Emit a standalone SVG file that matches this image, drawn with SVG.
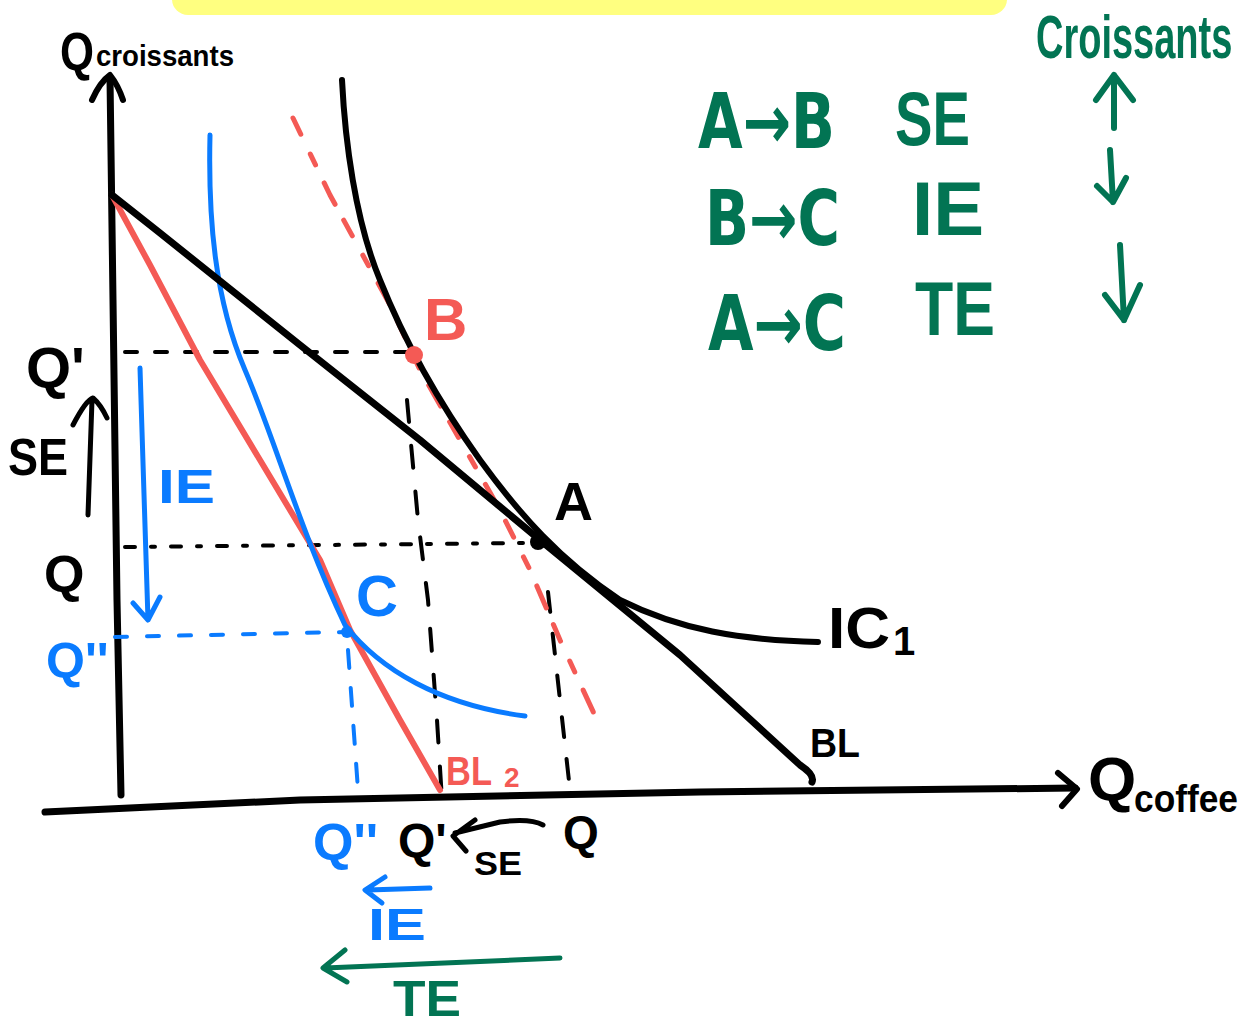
<svg xmlns="http://www.w3.org/2000/svg" width="1249" height="1026" viewBox="0 0 1249 1026">
<style>
.s{fill:none;stroke-linecap:round;stroke-linejoin:round}
.k{stroke:#000}
.r{stroke:#F45A55}
.b{stroke:#0A7BFF}
.g{stroke:#027453}
.t{font-family:"Liberation Sans",Arial,sans-serif;font-weight:bold}
.d{font-family:"DejaVu Sans Condensed","DejaVu Sans",sans-serif;font-weight:bold}
.tk{fill:#000}.tr{fill:#F45A55}.tb{fill:#0A7BFF}.tg{fill:#027453}
</style>
<rect id="banner" x="172" y="-30" width="835" height="45" rx="16" fill="#FFFF80"/>
<g id="axes">
<path class="s k" stroke-width="7" d="M110,78 L113,300 L117,600 L121,795"/>
<path class="s k" stroke-width="6" d="M92,100 Q100,82 110,75 Q118,85 123,100"/>
<path class="s k" stroke-width="7" d="M45,812 L300,800 L700,792 L1075,788"/>
<path class="s k" stroke-width="6" d="M1058,773 L1077,789 L1062,806"/>
<text class="t tk" x="60" y="70" font-size="54" textLength="34" lengthAdjust="spacingAndGlyphs">Q</text>
<text class="t tk" x="96" y="66" font-size="30" textLength="138" lengthAdjust="spacingAndGlyphs">croissants</text>
<text class="t tk" x="1088" y="800" font-size="62">Q</text>
<text class="t tk" x="1134" y="812" font-size="38" textLength="104" lengthAdjust="spacingAndGlyphs">coffee</text>
</g>
<g id="connectors">
<path class="s k" stroke-width="4" stroke-dasharray="12 18" d="M125,352 L410,352"/>
<path class="s k" stroke-width="4" stroke-dasharray="10 16 4 16" d="M125,547 L525,543"/>
<path class="s k" stroke-width="4" stroke-dasharray="22 24" d="M407,400 L418,520 L428,600 L437,720 L442,800"/>
<path class="s k" stroke-width="4" stroke-dasharray="20 22" d="M548,592 L560,700 L570,790"/>
<path class="s b" stroke-width="4" stroke-dasharray="12 20" d="M115,637 L345,632"/>
<path class="s b" stroke-width="4" stroke-dasharray="18 20" d="M348,650 L358,790"/>
<path class="s r" stroke-width="5" stroke-dasharray="18 22 12 20 24 18" d="M293,118 L330,195 L360,250 L390,305 L420,370 L460,440 L500,510 L530,570 L560,640 L597,720"/>
<path class="s r" stroke-width="6" d="M112,195 L150,265 L200,360 L260,460 L320,560 L350,630 L400,720 L440,790"/>
<path class="s b" stroke-width="5" d="M210,135 C208,220 215,300 245,370 C275,440 300,530 345,625 C380,670 440,705 525,716"/>
<path class="s k" stroke-width="7" d="M112,195 L160,233 L300,345 L420,440 L540,540 L680,655 L800,765 Q815,775 812,782"/>
<path class="s k" stroke-width="6" d="M342,80 C345,140 355,220 380,280 C400,330 430,390 480,460 C520,515 560,560 620,600 C680,630 740,640 818,642"/>
<path class="s k" stroke-width="5" d="M88,515 L92,400 M73,425 Q86,400 93,398 Q101,405 107,418"/>
<path class="s b" stroke-width="5" d="M140,368 L148,620 M133,603 L148,620 L160,597"/>
<path class="s k" stroke-width="5" d="M543,825 Q530,818 500,822 L455,833 M475,820 L453,836 L466,851"/>
<path class="s b" stroke-width="5" d="M430,888 L368,890 M385,877 L365,890 L382,903"/>
<path class="s g" stroke-width="5" d="M560,958 L325,968 M345,950 L323,968 L347,982"/>
</g>
<g id="node-A">
<circle cx="538" cy="542" r="8" fill="#000"/>
<text class="t tk" x="554" y="520" font-size="54">A</text>
</g>
<g id="node-B">
<circle cx="414" cy="355" r="9" fill="#F45A55"/>
<text class="t tr" x="424" y="340" font-size="60">B</text>
</g>
<g id="node-C">
<circle cx="347" cy="632" r="6" fill="#0A7BFF"/>
<text class="t tb" x="356" y="616" font-size="58">C</text>
</g>
<g id="curve-labels">
<text class="t tk" x="828" y="648" font-size="58" textLength="62" lengthAdjust="spacingAndGlyphs">IC</text>
<text class="t tk" x="893" y="655" font-size="40">1</text>
<text class="t tk" x="810" y="757" font-size="40" textLength="50" lengthAdjust="spacingAndGlyphs">BL</text>
<text class="t tr" x="446" y="785" font-size="40" textLength="46" lengthAdjust="spacingAndGlyphs">BL</text>
<text class="t tr" x="504" y="787" font-size="28">2</text>
</g>
<g id="left-labels">
<text class="t tk" x="26" y="388" font-size="58">Q'</text>
<text class="t tk" x="8" y="475" font-size="52" textLength="60" lengthAdjust="spacingAndGlyphs">SE</text>
<text class="t tk" x="44" y="592" font-size="52">Q</text>
<text class="t tb" x="46" y="678" font-size="50">Q''</text>
<text class="t tb" x="158" y="503" font-size="48" textLength="57" lengthAdjust="spacingAndGlyphs">IE</text>
</g>
<g id="bottom-labels">
<text class="t tb" x="313" y="860" font-size="52">Q''</text>
<text class="t tk" x="398" y="857" font-size="48">Q'</text>
<text class="t tk" x="474" y="875" font-size="34" textLength="48" lengthAdjust="spacingAndGlyphs">SE</text>
<text class="t tk" x="563" y="848" font-size="46">Q</text>
<text class="t tb" x="368" y="940" font-size="44" textLength="58" lengthAdjust="spacingAndGlyphs">IE</text>
<text class="t tg" x="393" y="1016" font-size="50" textLength="68" lengthAdjust="spacingAndGlyphs">TE</text>
</g>
<g id="legend">
<text class="t tg" transform="translate(1036,58) scale(1,1.6)" x="0" y="0" font-size="38">Croissants</text>
<text class="d tg" x="698" y="148" font-size="76" textLength="137" lengthAdjust="spacingAndGlyphs">A→B</text>
<text class="t tg" x="895" y="145" font-size="76" textLength="75" lengthAdjust="spacingAndGlyphs">SE</text>
<text class="d tg" x="705" y="245" font-size="76" textLength="135" lengthAdjust="spacingAndGlyphs">B→C</text>
<text class="t tg" x="912" y="235" font-size="76" textLength="72" lengthAdjust="spacingAndGlyphs">IE</text>
<text class="d tg" x="708" y="350" font-size="76" textLength="138" lengthAdjust="spacingAndGlyphs">A→C</text>
<text class="t tg" x="915" y="335" font-size="76" textLength="80" lengthAdjust="spacingAndGlyphs">TE</text>
<path class="s g" stroke-width="6" d="M1114,128 L1114,75 M1096,100 L1114,75 L1133,100"/>
<path class="s g" stroke-width="6" d="M1110,150 L1113,202 M1097,186 L1113,202 L1126,178"/>
<path class="s g" stroke-width="6" d="M1120,245 L1124,320 M1105,295 L1124,320 L1140,285"/>
</g>
</svg>
